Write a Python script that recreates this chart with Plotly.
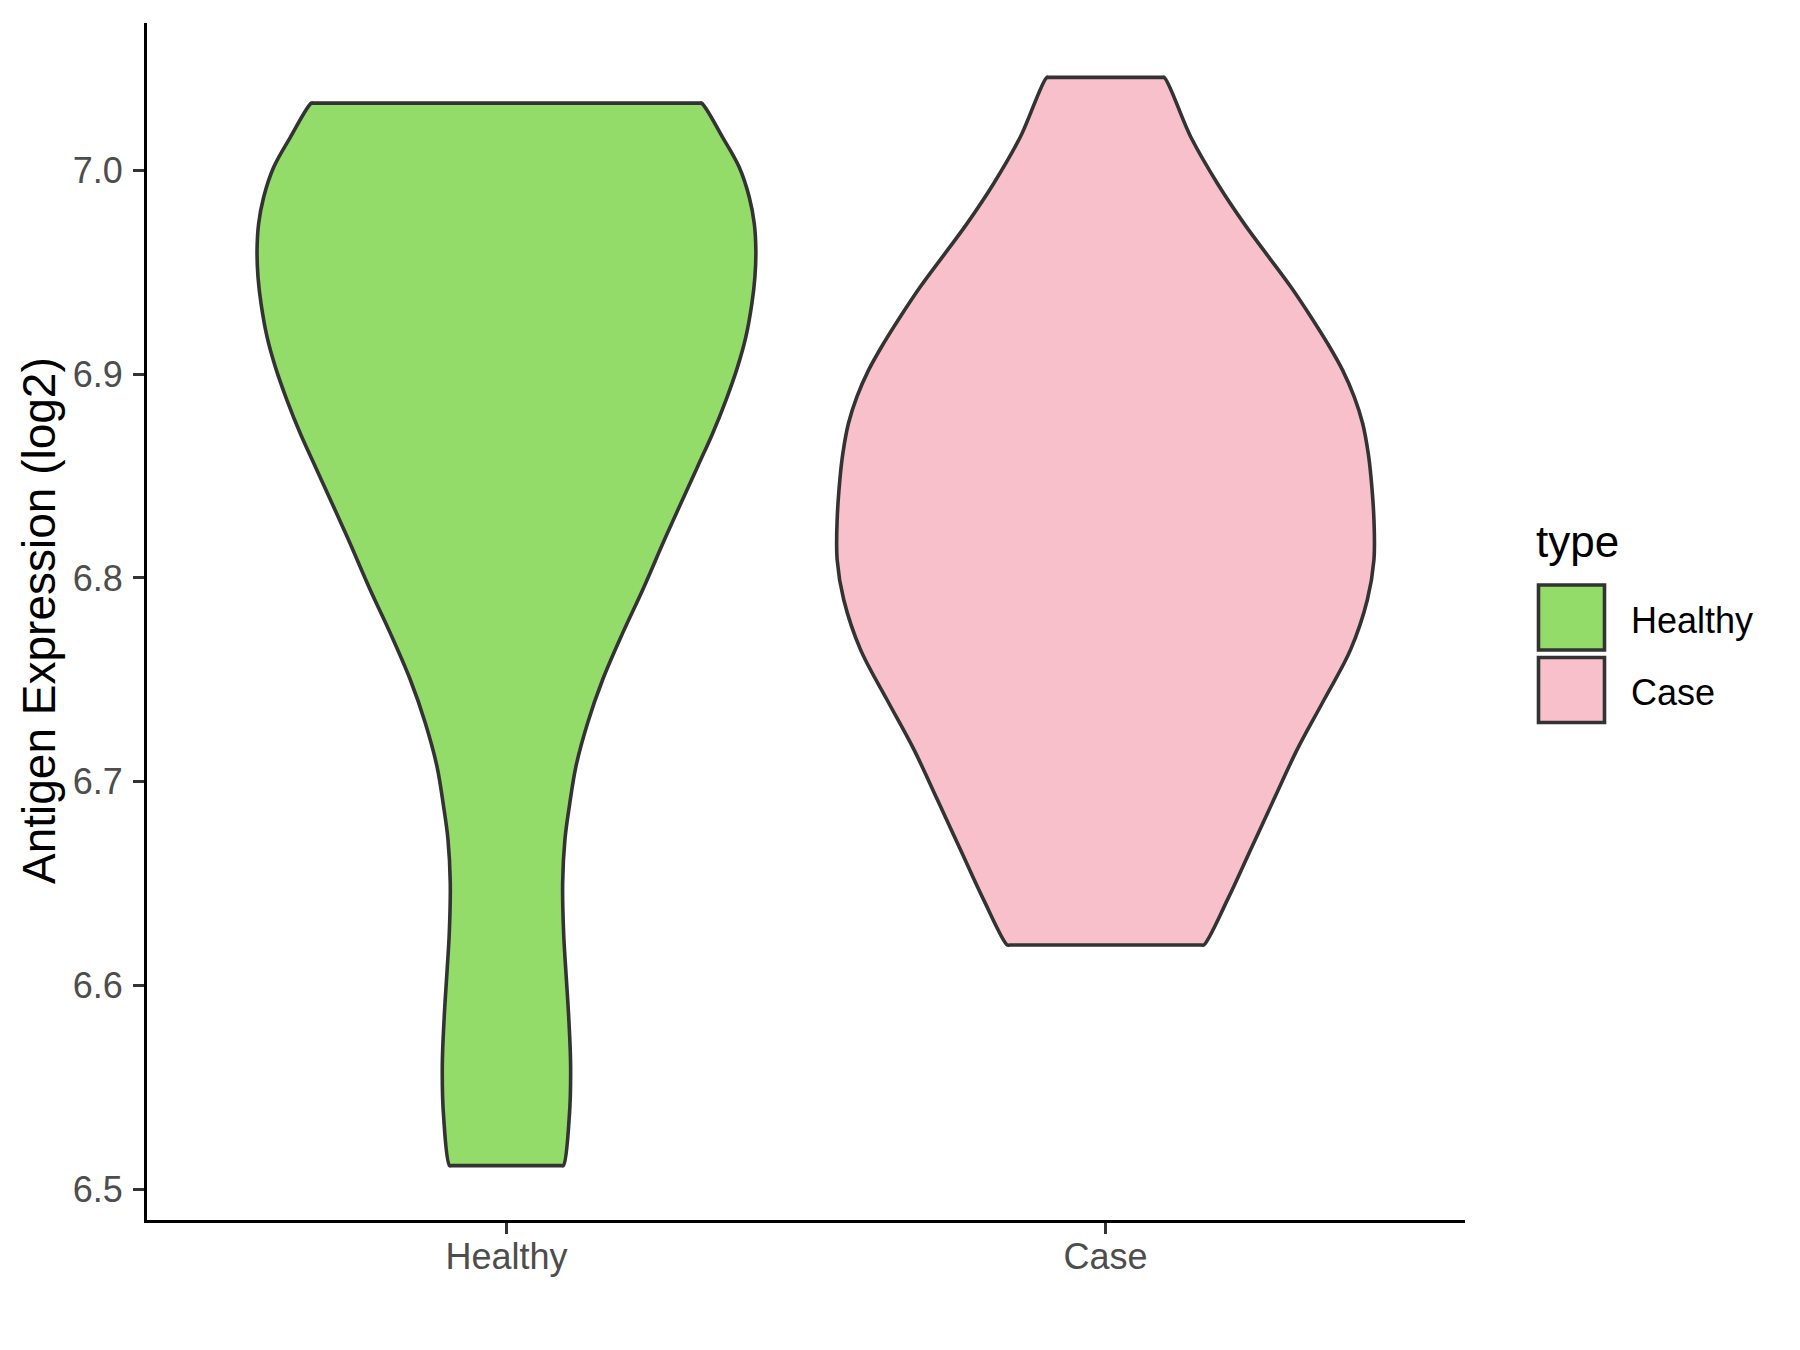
import plotly.graph_objects as go

# ---- data ----
categories = ["Healthy", "Case"]
legend_title = "type"
y_title = "Antigen Expression (log2)"
y_ticks = [6.5, 6.6, 6.7, 6.8, 6.9, 7.0]

# violin density profiles: expression levels (top -> bottom) and half-widths (category units)
healthy_levels = [7.0331, 7.0163, 7.0016, 6.9869, 6.9738, 6.9607, 6.9477, 6.9346, 6.9183,
                  6.9036, 6.8872, 6.8709, 6.8546, 6.8203, 6.7941, 6.7729, 6.7500,
                  6.7288, 6.7075, 6.6879, 6.6716, 6.6504, 6.6259, 6.6063, 6.5850, 6.5605,
                  6.5360, 6.5115]
healthy_half = [0.3257, 0.3608, 0.3886, 0.4053, 0.4137, 0.4163, 0.4147, 0.4096, 0.3996,
                0.3858, 0.3663, 0.3441, 0.3190, 0.2661, 0.2273, 0.1939, 0.1605,
                0.1355, 0.1160, 0.1050, 0.0976, 0.0938, 0.0954, 0.0993, 0.1038, 0.1071,
                0.1050, 0.0949]

case_levels = [7.0457, 7.0163, 6.9935, 6.9738, 6.9591, 6.9428, 6.9281, 6.9150, 6.9019,
               6.8889, 6.8758, 6.8611, 6.8497, 6.8285, 6.8089, 6.7893, 6.7648, 6.7403,
               6.7158, 6.6913, 6.6668, 6.6423, 6.6198]
case_half = [0.098, 0.1425, 0.187, 0.2316, 0.2685, 0.3095, 0.3429, 0.3708, 0.3958,
             0.4151, 0.4292, 0.4385, 0.4430, 0.448, 0.448, 0.437, 0.409, 0.365,
             0.320, 0.281, 0.2425, 0.204, 0.164]

fill_colors = ["#94DC6A", "#F7C0CB"]
outline = "#333333"
FONT = "Liberation Sans, Arial, sans-serif"

profiles = [(healthy_levels, healthy_half), (case_levels, case_half)]

fig = go.Figure()
EPS = 0.004  # tiny inset so the flat ends keep sharp corners under spline smoothing
for i, (levels, half) in enumerate(profiles):
    c = i + 1
    top, bot = levels[0], levels[-1]
    ht, hb = half[0], half[-1]
    xs = [c + hb - EPS] + [c + h for h in reversed(half)] + [c + ht - EPS, c - ht + EPS] \
        + [c - h for h in half] + [c - hb + EPS, c + hb - EPS]
    ys = [bot] + list(reversed(levels)) + [top, top] + list(levels) + [bot, bot]
    fig.add_trace(go.Scatter(
        x=xs, y=ys, mode="lines", fill="toself",
        fillcolor=fill_colors[i],
        line=dict(color=outline, width=3.6, shape="spline", smoothing=1.0),
        name=categories[i], showlegend=False, hoverinfo="skip",
    ))

all_vals = healthy_levels + case_levels
lo, hi = min(all_vals), max(all_vals)
pad = (hi - lo) * 0.05

# page has an 8px body margin: the figure is drawn 8px in from the window edge
OFF = 8
L, R, T, B = 147, 1465, 23, 1220          # plot area in window pixels
W, H = 1800 - 2 * OFF, 1350 - 2 * OFF     # figure size

fig.update_layout(
    width=W, height=H,
    paper_bgcolor="white", plot_bgcolor="white",
    margin=dict(l=L - OFF, r=W - (R - OFF), t=T - OFF, b=H - (B - OFF), autoexpand=False),
    font=dict(family=FONT, size=36, color="#4D4D4D"),
    showlegend=False,
)
fig.update_xaxes(
    range=[0.4, 2.6], tickvals=[1, 2], ticktext=categories,
    showline=True, linecolor="black", linewidth=3.2,
    ticks="outside", ticklen=11, tickwidth=2.6, tickcolor="#333333",
    showgrid=False, zeroline=False, automargin=False, ticklabelstandoff=-8,
    tickfont=dict(family=FONT, size=36, color="#4D4D4D"),
)
fig.update_yaxes(
    range=[lo - pad, hi + pad], tickvals=y_ticks,
    ticktext=[f"{v:.1f}" for v in y_ticks],
    showline=True, linecolor="black", linewidth=3.2,
    ticks="outside", ticklen=11, tickwidth=2.6, tickcolor="#333333",
    showgrid=False, zeroline=False, automargin=False, ticklabelstandoff=3,
    tickfont=dict(family=FONT, size=36, color="#4D4D4D"),
)

def pxp(x, y):
    """window pixel -> paper coordinates of the plot area"""
    return (x - L) / (R - L), (B - y) / (B - T)

# y-axis title
fig.add_annotation(x=pxp(39, 0)[0], y=pxp(0, 621)[1], xref="paper", yref="paper",
                   text=y_title, showarrow=False, textangle=-90,
                   xanchor="center", yanchor="middle",
                   font=dict(family=FONT, size=46, color="black"))

# legend drawn manually (large ggplot-style keys)
fig.add_annotation(x=pxp(1534, 0)[0], y=pxp(0, 541)[1], xref="paper", yref="paper",
                   text=legend_title, showarrow=False, xanchor="left", yanchor="middle",
                   font=dict(family=FONT, size=44, color="black"))
key_tops = [585, 657.5]
key_h = 65
for i, cat in enumerate(categories):
    x0, y0 = pxp(1538.5, key_tops[i])
    x1, y1 = pxp(1604.5, key_tops[i] + key_h)
    fig.add_shape(type="rect", xref="paper", yref="paper", x0=x0, x1=x1, y0=y1, y1=y0,
                  fillcolor=fill_colors[i], line=dict(color=outline, width=3.6))
    fig.add_annotation(x=pxp(1629, 0)[0], y=pxp(0, key_tops[i] + 35)[1],
                       xref="paper", yref="paper", text=cat, showarrow=False,
                       xanchor="left", yanchor="middle",
                       font=dict(family=FONT, size=36, color="black"))

fig.write_html("out.html")
